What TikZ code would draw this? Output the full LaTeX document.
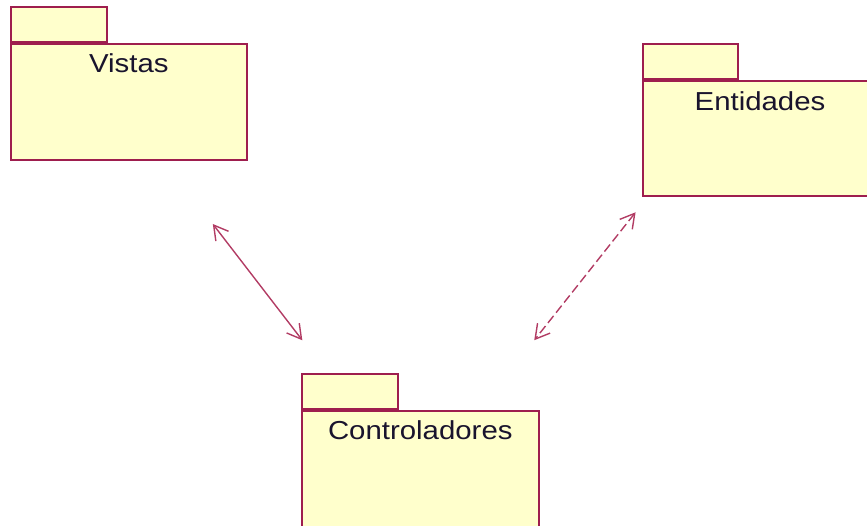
\documentclass[tikz,border=0pt]{standalone}
\usepackage{fontspec}
\setmainfont{Liberation Sans}[FakeStretch=1.13]
\usepackage{tikz}
\usetikzlibrary{positioning,arrows.meta}
\definecolor{pkgline}{RGB}{158,30,78}
\definecolor{pkgfill}{RGB}{255,255,204}
\definecolor{assocline}{RGB}{178,60,100}
\definecolor{pkgtext}{RGB}{25,20,45}

\begin{document}
\begin{tikzpicture}[x=1pt, y=-1pt,
    pkgbody/.style={rectangle, draw=pkgline, fill=pkgfill, line width=1.6pt, anchor=north west, inner sep=0pt},
    pkgtab/.style={rectangle, draw=pkgline, fill=pkgfill, line width=1.6pt, inner sep=0pt, minimum width=96pt, minimum height=35pt},
    pkgname/.style={inner sep=0pt, font=\fontsize{26}{30}\selectfont, text=pkgtext},
    assoc/.style={draw=assocline, line width=1.4pt, {Straight Barb[length=14pt,width=16pt]}-{Straight Barb[length=14pt,width=16pt]}}]
    \useasboundingbox (0,0) rectangle (867,526);
    \clip (0,0) rectangle (867,526);
    % paquetes
    \node [pkgbody, minimum width=236pt, minimum height=116pt] (vistas) at (10,43) {};
    \node [pkgtab, above right=0pt of vistas.north west] (vistastab) {};
    \node [pkgname, below=10pt of vistas.north] (vistasname) {Vistas};

    \node [pkgbody, minimum width=240pt, minimum height=115pt] (entidades) at (642,80) {};
    \node [pkgtab, minimum width=95pt, above right=0pt of entidades.north west] (entidadestab) {};
    \node [pkgname, below=11pt of entidades.north west, xshift=118pt] (entidadesname) {Entidades};

    \node [pkgbody, minimum width=237pt, minimum height=140pt] (ctrl) at (301,410) {};
    \node [pkgtab, above right=0pt of ctrl.north west] (ctrltab) {};
    \node [pkgname, below=10pt of ctrl.north] (ctrlname) {Controladores};

    % relaciones
    \draw [assoc, shorten <=80pt, shorten >=88pt] ([xshift=154pt]vistas.south west) -- ([xshift=55pt]ctrl.north west);
    \draw [assoc, dash pattern=on 9pt off 4pt, shorten <=20pt, shorten >=89pt] ([xshift=6pt]entidades.south west) -- ([xshift=178pt]ctrl.north west);
\end{tikzpicture}
\end{document}
